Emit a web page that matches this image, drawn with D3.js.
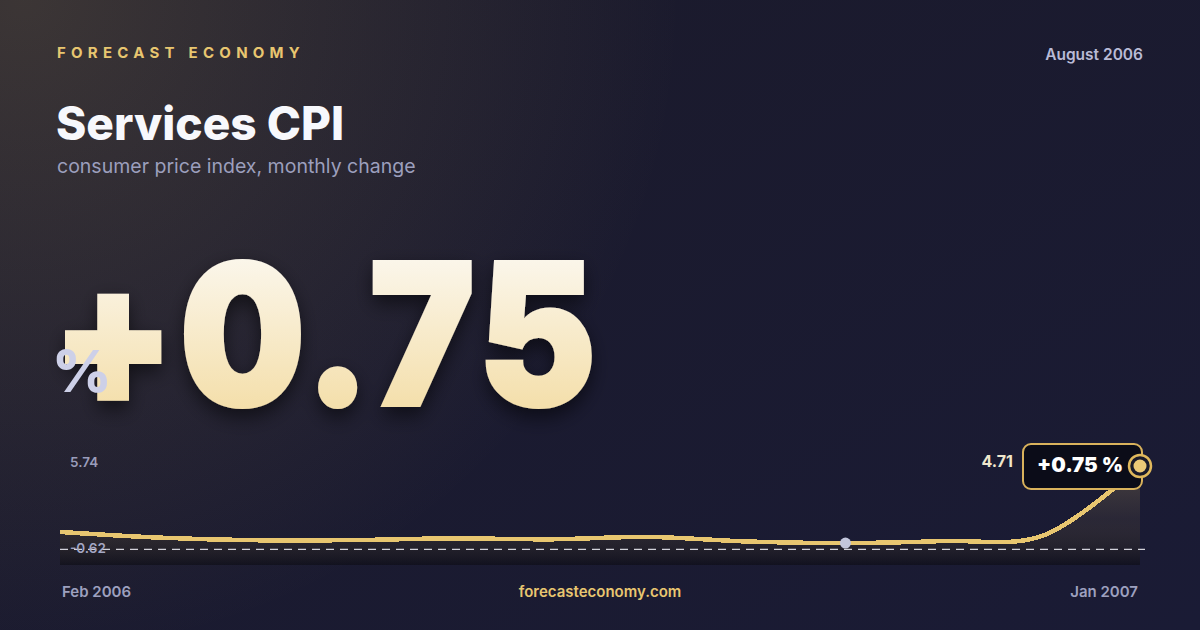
<!DOCTYPE html>
<html><head><meta charset="utf-8">
<script src="https://cdn.jsdelivr.net/npm/d3@7"></script>
<style>
html,body{margin:0;padding:0;background:#161830;}
svg{display:block;font-family:Inter,"Noto Sans",sans-serif;}
</style></head>
<body>
<svg id="chart" width="1200" height="630"></svg>
<script>
// ---- data ----
const months = ["Feb 2006","Mar 2006","Apr 2006","May 2006","Jun 2006","Jul 2006","Aug 2006","Sep 2006","Oct 2006","Nov 2006","Dec 2006","Jan 2007"];
const values = [0.49, 0.13, -0.04, -0.03, 0.08, 0.02, 0.17, -0.12, -0.22, -0.09, 0.23, 4.71];
const yBounds = [-0.62, 5.74];
const yTickLabels = ["5.74", "-0.62"];
const headline = "+0.75";
const badgeText = "+0.75 %";
const lastLabel = "4.71";
const minIndex = 8;
const texts = {brand:"FORECAST ECONOMY", date:"August 2006", title:"Services CPI", subtitle:"consumer price index, monthly change", site:"forecasteconomy.com"};

const svg = d3.select("#chart");
const W = 1200, H = 630;
const defs = svg.append("defs");

// background
const bg = defs.append("linearGradient").attr("id","bg").attr("x1",0).attr("y1",0).attr("x2",1).attr("y2",1);
bg.append("stop").attr("offset","0%").attr("stop-color","#1b1a2a");
bg.append("stop").attr("offset","100%").attr("stop-color","#1a1b35");
const glow = defs.append("radialGradient").attr("id","glow").attr("cx",0.02).attr("cy",0).attr("r",0.55)
  .attr("gradientTransform","scale(1,1.9)");
glow.append("stop").attr("offset","0%").attr("stop-color","#e8c670").attr("stop-opacity",0.16);
glow.append("stop").attr("offset","100%").attr("stop-color","#e8c670").attr("stop-opacity",0);
svg.append("rect").attr("width",W).attr("height",H).attr("fill","url(#bg)");
svg.append("rect").attr("width",W).attr("height",H).attr("fill","url(#glow)");

// header
svg.append("text").attr("x",57).attr("y",58).text(texts.brand)
  .attr("fill","#e8c670").attr("font-size",15).attr("font-weight",700).attr("letter-spacing","5.25px");
svg.append("text").attr("x",1143).attr("y",60).attr("text-anchor","end").text(texts.date)
  .attr("fill","#b9bbd6").attr("font-size",15.5).attr("font-weight",600);
svg.append("text").attr("x",56).attr("y",140).text(texts.title)
  .attr("fill","#f7f8fc").attr("font-size",46).attr("font-weight",800).attr("letter-spacing","0px");
svg.append("text").attr("x",57).attr("y",173).text(texts.subtitle)
  .attr("fill","#9c9fbd").attr("font-size",19.5).attr("font-weight",400);

// big number
const numGrad = defs.append("linearGradient").attr("id","numGrad").attr("x1",0).attr("y1",0).attr("x2",0).attr("y2",1);
numGrad.append("stop").attr("offset","0%").attr("stop-color","#fdfdfd");
numGrad.append("stop").attr("offset","100%").attr("stop-color","#f2d898");
const shadow = defs.append("filter").attr("id","shadow").attr("x","-20%").attr("y","-20%").attr("width","140%").attr("height","150%");
shadow.append("feDropShadow").attr("dx",0).attr("dy",8).attr("stdDeviation",10).attr("flood-color","#000").attr("flood-opacity",0.55);
svg.append("g").attr("transform","translate(52,405) scale(0.9,1)")
  .append("text").attr("x",0).attr("y",0).text(headline)
  .attr("fill","url(#numGrad)").attr("stroke","url(#numGrad)").attr("stroke-width",4).attr("stroke-linejoin","miter")
  .attr("font-size",196).attr("font-weight",900).attr("letter-spacing","6px")
  .attr("filter","url(#shadow)");
svg.append("text").attr("x",52).attr("y",392).text("%")
  .attr("fill","#cdd0e8").attr("font-size",58).attr("font-weight",800);

// sparkline
const x = d3.scalePoint().domain(months).range([60,1140]);
const y = d3.scaleLinear().domain(yBounds).range([549.3,449.9]);
const chartBottom = 565;

const areaGrad = defs.append("linearGradient").attr("id","areaGrad").attr("gradientUnits","userSpaceOnUse")
  .attr("x1",0).attr("y1",y(yBounds[1])).attr("x2",0).attr("y2",chartBottom);
areaGrad.append("stop").attr("offset","0%").attr("stop-color","#e8c670").attr("stop-opacity",0.3);
areaGrad.append("stop").attr("offset","60%").attr("stop-color","#6a5a40").attr("stop-opacity",0.2);
areaGrad.append("stop").attr("offset","100%").attr("stop-color","#0a0a10").attr("stop-opacity",0.55);

const pts = months.map((m,i)=>({m, v:values[i]}));
const area = d3.area().x(d=>x(d.m)).y0(chartBottom).y1(d=>y(d.v)).curve(d3.curveCatmullRom);
const line = d3.line().x(d=>x(d.m)).y(d=>y(d.v)).curve(d3.curveCatmullRom);

svg.append("path").datum(pts).attr("d",area).attr("fill","url(#areaGrad)");
svg.append("line").attr("x1",x(months[0])).attr("x2",x(months[months.length-1])+5)
  .attr("y1",y(yBounds[0])).attr("y2",y(yBounds[0]))
  .attr("stroke","#e6e6ee").attr("stroke-width",1.3).attr("stroke-dasharray","8,6").attr("opacity",0.9);
svg.append("path").datum(pts).attr("d",line).attr("fill","none")
  .attr("stroke","#e8c670").attr("stroke-width",4.5).attr("shape-rendering","crispEdges");

// y labels (drawn above the reference line)
svg.append("text").attr("x",70).attr("y",467).text(yTickLabels[0])
  .attr("fill","#9a9dbb").attr("font-size",13.5).attr("font-weight",600);
svg.append("text").attr("x",70).attr("y",553).text(yTickLabels[1])
  .attr("fill","#a4a7c4").attr("font-size",13.5).attr("font-weight",600);

// min dot
svg.append("circle").attr("cx",x(months[minIndex])).attr("cy",y(values[minIndex])).attr("r",5.5).attr("fill","#c3c6dc");

// last point badge
const lx = x(months[months.length-1]), ly = y(values[values.length-1]);
svg.append("rect").attr("x",lx-117).attr("y",ly-22).attr("width",119).attr("height",45).attr("rx",8)
  .attr("fill","#0b0c18").attr("stroke","#d9b25c").attr("stroke-width",2);
svg.append("text").attr("x",lx-103).attr("y",ly+6.5).text(badgeText)
  .attr("fill","#ffffff").attr("font-size",20.5).attr("font-weight",900);
svg.append("circle").attr("cx",lx).attr("cy",ly).attr("r",11).attr("fill","#1a1a2a").attr("stroke","#e0b85c").attr("stroke-width",2.5);
svg.append("circle").attr("cx",lx).attr("cy",ly).attr("r",6.5).attr("fill","#ecc977");
svg.append("text").attr("x",lx-127).attr("y",ly+1).attr("text-anchor","end").text(lastLabel)
  .attr("fill","#efe6cc").attr("font-size",16).attr("font-weight",700);

// footer
svg.append("text").attr("x",62).attr("y",597).text(months[0])
  .attr("fill","#9da0bf").attr("font-size",15).attr("font-weight",600);
svg.append("text").attr("x",1138).attr("y",597).attr("text-anchor","end").text(months[months.length-1])
  .attr("fill","#9da0bf").attr("font-size",15).attr("font-weight",600);
svg.append("text").attr("x",600).attr("y",597).attr("text-anchor","middle").text(texts.site)
  .attr("fill","#e8c670").attr("font-size",15).attr("font-weight",600);
</script>
</body></html>
